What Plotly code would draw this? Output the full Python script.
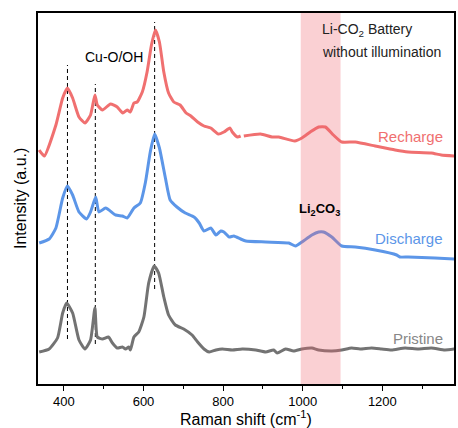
import plotly.graph_objects as go

# Raman spectra of the cathode (offset stacked, arbitrary units)
recharge_x = [338, 351, 380, 397, 409, 422, 438, 453, 467, 478, 484, 497, 517, 534, 548, 559, 567, 576,
              584, 597, 609, 620, 630, 640, 651, 663, 676, 692, 707, 719, 736, 752, 769, 788, 802, 817,
              823, 836, 844, None, 852, 894, 923, 940, 980, 998, 1019, 1040, 1057, 1077, 1098, 1132,
              1182, 1232, 1265, 1323, 1348, 1382]
recharge_y = [234, 228, 259, 286, 296, 286, 267, 261, 269, 289, 279, 274, 280, 277, 271, 274, 272, 281,
              282, 292, 312, 339, 354, 342, 312, 291, 282, 279, 271, 268, 262, 258, 256, 250, 252, 256,
              252, 247, 248, None, 248, 250, 247, 247, 243, 246, 252, 257, 257, 249, 242, 242,
              238, 234, 232, 231, 229, 228]

discharge_x = [338, 363, 380, 397, 409, 422, 438, 457, 467, 480, 488, 505, 530, 547, 559, 576, 592, 605,
               617, 628, 640, 655, 667, 684, 705, 727, 740, 752, 769, 782, 794, 802, 815, 827, 844, 857,
               907, 965, 982, 998, 1023, 1040, 1052, 1073, 1098, 1132, 1182, 1236, 1244, 1265, 1332, 1382]
discharge_y = [141, 145, 156, 186, 198, 189, 172, 165, 172, 187, 172, 176, 169, 168, 166, 176, 181, 202,
               232, 250, 236, 206, 184, 177, 171, 167, 161, 153, 156, 149, 153, 152, 147, 148, 145, 143,
               142, 141, 138, 142, 149, 152, 152, 147, 138, 137, 134, 129, 127, 127, 126, 125]

pristine_x = [338, 363, 384, 397, 407, 422, 438, 453, 467, 478, 484, 497, 512, 522, 534, 547, 555, 563,
              567, 576, 588, 601, 613, 627, 638, 651, 663, 680, 701, 722, 736, 752, 765, 782, 798, 823,
              848, 882, 907, 927, 936, 957, 977, 998, 1023, 1040, 1073, 1098, 1123, 1144, 1173, 1198,
              1223, 1257, 1290, 1323, 1357, 1382]
pristine_y = [32, 35, 46, 71, 81, 71, 44, 35, 44, 76, 47, 45, 47, 41, 36, 37, 35, 37,
              34, 47, 52, 67, 101, 118, 111, 87, 69, 59, 55, 49, 42, 35, 32, 34, 35, 34,
              35, 34, 32, 34, 31, 35, 33, 35, 36, 34, 33, 34, 36, 35, 36, 35,
              34, 36, 35, 36, 34, 35]

# Cu-O/OH band positions and the extent of their guide lines
peak_pos = [409, 479, 628]
peak_top = [319, 300, 362]
peak_bottom = [45, 40, 95]

# Li2CO3 region
band_range = [995, 1095]

RED = "rgb(240,112,112)"
BLUE = "rgb(92,150,232)"
GRAY = "rgb(115,115,115)"
FONT = "Arial, Liberation Sans, sans-serif"

fig = go.Figure()

for px, top, bot in zip(peak_pos, peak_top, peak_bottom):
    fig.add_trace(go.Scatter(x=[px, px], y=[bot, top], mode="lines",
                             line=dict(color="black", width=1, dash="4px,3px"),
                             hoverinfo="skip", showlegend=False))

for xs, ys, col in [(pristine_x, pristine_y, GRAY),
                    (discharge_x, discharge_y, BLUE),
                    (recharge_x, recharge_y, RED)]:
    fig.add_trace(go.Scatter(x=xs, y=ys, mode="lines",
                             line=dict(color=col, width=3, shape="spline", smoothing=0.5),
                             connectgaps=False, showlegend=False))

fig.add_vrect(x0=band_range[0], x1=band_range[1], fillcolor="rgb(240,100,110)",
              opacity=0.3, line_width=0, layer="above")

ann = [
    dict(x=525, y=327, text="Cu-O/OH", font=dict(size=14, color="black")),
    dict(x=1043, y=354, text="Li-CO<sub>2</sub> Battery", xanchor="left",
         font=dict(size=14, color="#222")),
    dict(x=1043, y=332, text="without illumination", xanchor="left",
         font=dict(size=14, color="#222")),
    dict(x=1042, y=175, text="<b>Li<sub>2</sub>CO<sub>3</sub></b>",
         font=dict(size=13, color="black")),
    dict(x=1358, y=248, text="Recharge", xanchor="right", font=dict(size=15, color=RED)),
    dict(x=1358, y=146, text="Discharge", xanchor="right", font=dict(size=15, color=BLUE)),
    dict(x=1358, y=46, text="Pristine", xanchor="right",
         font=dict(size=15, color="rgb(135,135,135)")),
]
for a in ann:
    a.setdefault("xanchor", "center")
    fig.add_annotation(showarrow=False, yanchor="middle", **a)

fig.add_annotation(xref="paper", yref="paper", x=0.5, y=-0.092, showarrow=False,
                   text="Raman shift (cm<sup>-1</sup>)", yanchor="middle",
                   font=dict(size=16, color="black"))
fig.add_annotation(xref="paper", yref="paper", x=-0.042, y=0.5, showarrow=False,
                   text="Intensity (a.u.)", textangle=-90, xanchor="center", yanchor="middle",
                   font=dict(size=16, color="black"))

fig.update_layout(
    width=458, height=428,
    margin=dict(l=38, r=2, t=13, b=44),
    paper_bgcolor="white", plot_bgcolor="white",
    font=dict(family=FONT, color="black"),
    xaxis=dict(range=[335, 1380], tickvals=[400, 600, 800, 1000, 1200],
               ticks="outside", ticklen=5, tickwidth=1, tickcolor="black",
               minor=dict(tickvals=[500, 700, 900, 1100, 1300], ticks="outside",
                          ticklen=3, tickwidth=1, tickcolor="black"),
               showline=True, linecolor="black", linewidth=1.5, mirror=True,
               showgrid=False, zeroline=False, tickfont=dict(size=13)),
    yaxis=dict(range=[0, 371], showticklabels=False, ticks="",
               showline=True, linecolor="black", linewidth=1.5, mirror=True,
               showgrid=False, zeroline=False),
)

fig.write_html("out.html")
